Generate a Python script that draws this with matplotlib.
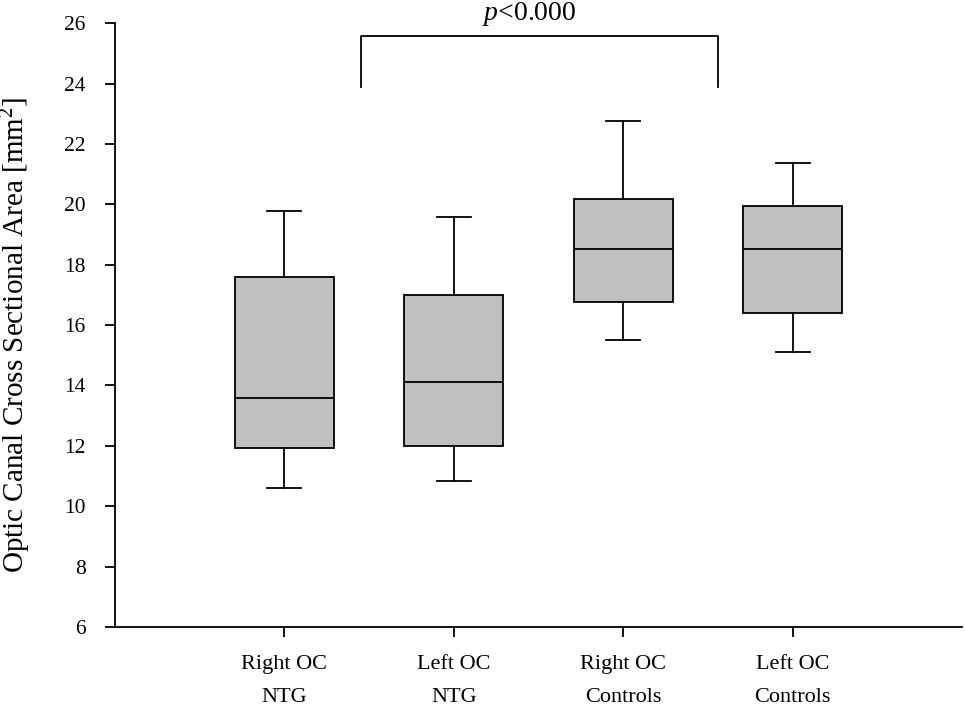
import matplotlib
matplotlib.use("Agg")
import matplotlib.pyplot as plt

# box statistics (mm^2)
groups = ["Right OC\nNTG", "Left OC\nNTG", "Right OC\nControls", "Left OC\nControls"]
whisker_low = [10.61, 10.84, 15.49, 15.12]
q1 = [11.93, 12.01, 16.76, 16.39]
median = [13.60, 14.10, 18.51, 18.51]
q3 = [17.60, 17.00, 20.18, 19.93]
whisker_high = [19.77, 19.58, 22.75, 21.36]

bracket_x = [1.455, 3.557]
bracket_y = [23.87, 25.59]
p_label = "$\\it{p}$<0.000"

plt.rcParams["font.family"] = ["Liberation Serif", "DejaVu Serif"]
plt.rcParams["mathtext.fontset"] = "custom"
plt.rcParams["mathtext.it"] = "Liberation Serif:italic"
plt.rcParams["mathtext.rm"] = "Liberation Serif"

stats = [
    {"whislo": lo, "q1": a, "med": m, "q3": b, "whishi": hi, "fliers": []}
    for lo, a, m, b, hi in zip(whisker_low, q1, median, q3, whisker_high)
]

fig = plt.figure(figsize=(9.65, 7.07), dpi=100)
ax = fig.add_axes([0.119, 0.1132, 0.878, 0.854])

lw = 1.3
ax.bxp(
    stats,
    positions=range(1, len(groups) + 1),
    widths=0.585,
    capwidths=0.2,
    patch_artist=True,
    showfliers=False,
    boxprops=dict(facecolor="#c0c0c0", edgecolor="black", linewidth=lw),
    medianprops=dict(color="black", linewidth=lw),
    whiskerprops=dict(color="black", linewidth=lw),
    capprops=dict(color="black", linewidth=lw),
)

ax.set_xlim(0, 5)
ax.set_ylim(6, 26)
ax.set_yticks(range(6, 27, 2))
ax.set_xticks(range(1, len(groups) + 1))
ax.set_xticklabels(groups, fontsize=16, linespacing=2.05)

for side in ("top", "right"):
    ax.spines[side].set_visible(False)
for side in ("left", "bottom"):
    ax.spines[side].set_linewidth(lw)
ax.tick_params(axis="y", direction="out", length=7, width=lw, labelsize=15.5, pad=14)
ax.tick_params(axis="x", direction="out", length=7, width=lw, pad=13)

ax.set_ylabel("Optic Canal Cross Sectional Area [mm$^2$]", fontsize=21)
ax.yaxis.set_label_coords(-0.097, 0.483)

# significance bracket
ax.plot(
    [bracket_x[0], bracket_x[0], bracket_x[1], bracket_x[1]],
    [bracket_y[0], bracket_y[1], bracket_y[1], bracket_y[0]],
    color="black", linewidth=lw, clip_on=False,
)
ax.text(2.447, 26.11, p_label, ha="center", va="baseline",
        fontsize=20, clip_on=False)

fig.savefig("out.png", dpi=100)
